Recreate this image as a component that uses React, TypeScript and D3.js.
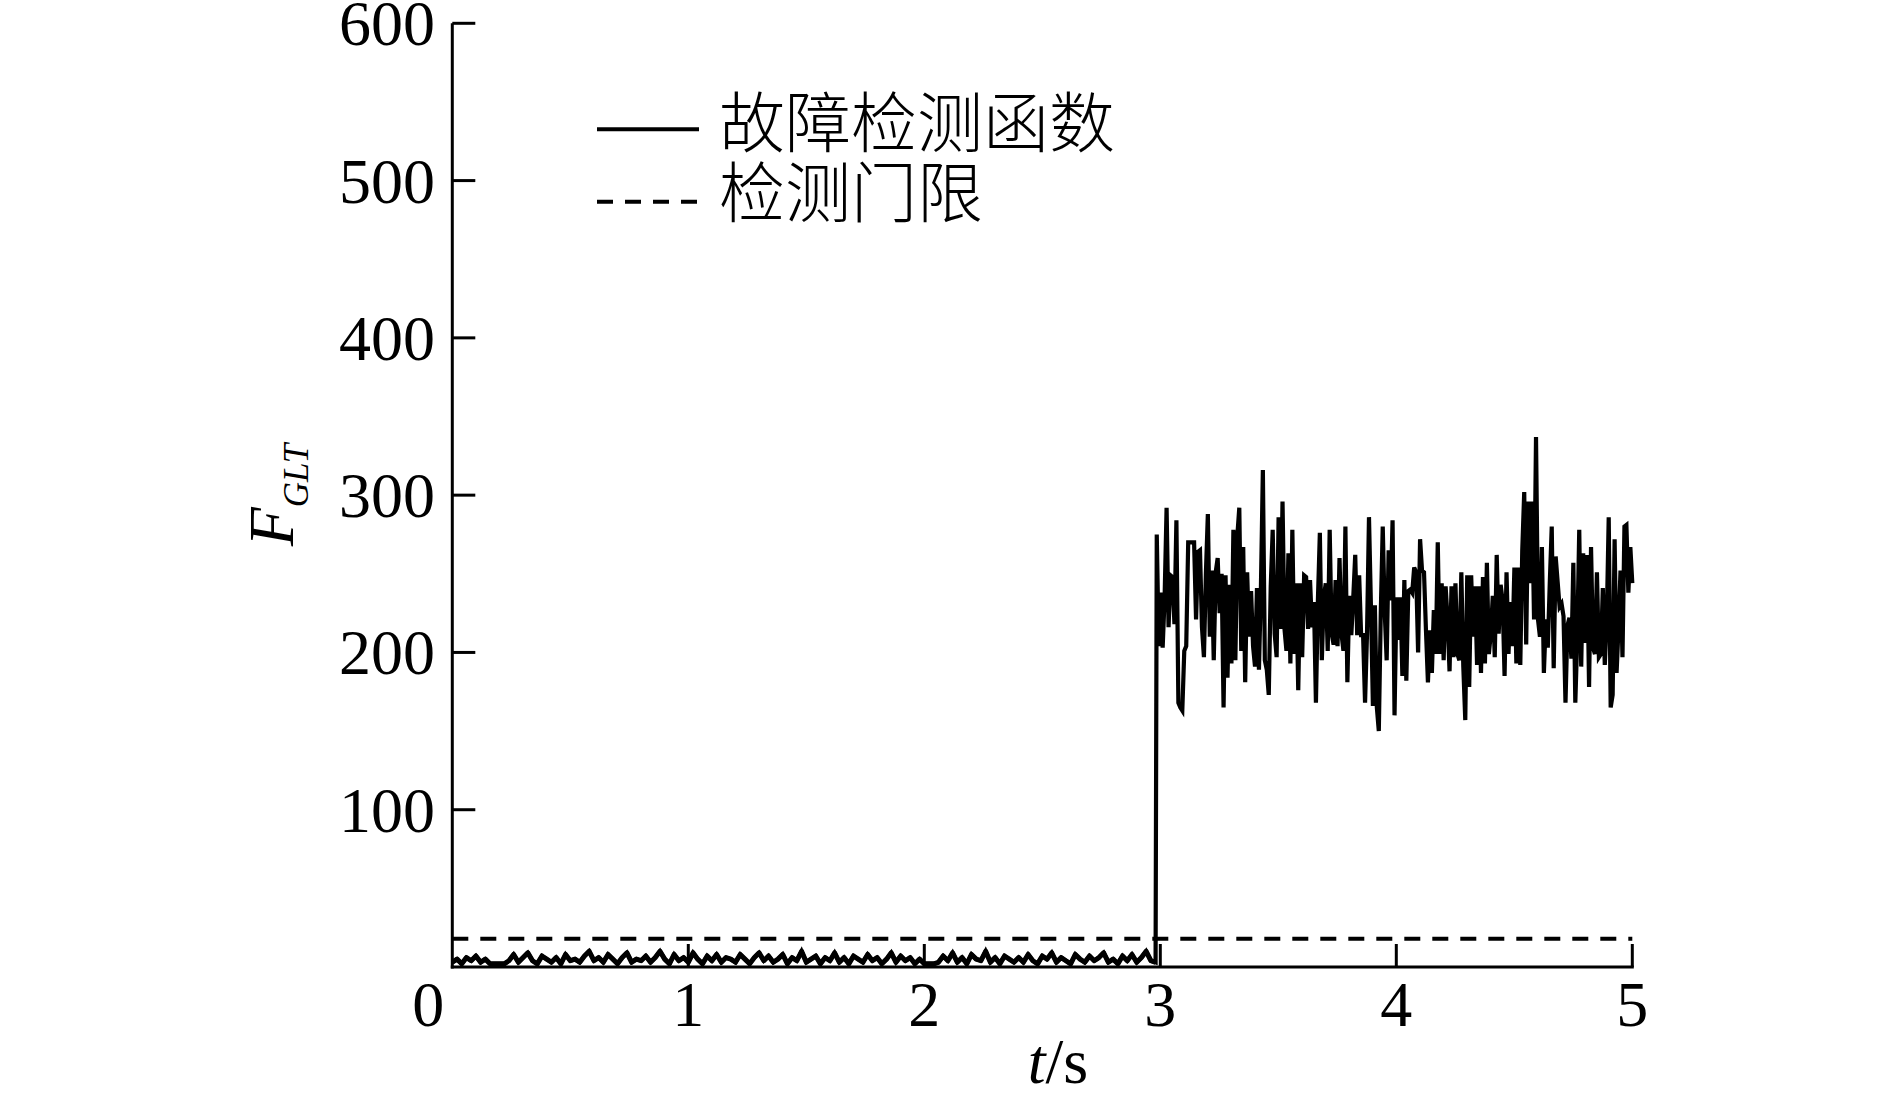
import React from 'react';
import * as d3 from 'd3';

const xTicks = [0, 1, 2, 3, 4, 5];
const yTicks = [100, 200, 300, 400, 500, 600];
const threshold = 18;
const faultTime = 2.985;
const preStep = 0.02;
const legendLabels = ['故障检测函数', '检测门限'];

const preFault = [
  3, 5, 2, 6, 4, 7, 3, 5, 2, 2, 2, 2, 4, 8, 3, 6, 9, 4, 2, 7,
  5, 3, 6, 2, 8, 4, 5, 3, 7, 10, 4, 6, 3, 8, 5, 2, 6, 9, 3, 5,
  4, 7, 3, 6, 10, 5, 2, 8, 4, 6, 3, 9, 5, 2, 7, 4, 8, 3, 6, 5,
  3, 8, 5, 2, 6, 9, 4, 7, 3, 5, 8, 2, 6, 4, 10, 3, 5, 7, 2, 6,
  4, 9, 3, 6, 2, 7, 5, 3, 8, 4, 6, 2, 5, 9, 3, 7, 4, 6, 2, 5,
  2, 2, 2, 3, 7, 4, 9, 3, 6, 2, 8, 5, 4, 10, 3, 6, 2, 7, 5, 3,
  6, 3, 8, 4, 2, 7, 5, 9, 3, 6, 4, 2, 8, 5, 3, 7, 4, 6, 9, 3,
  5, 2, 7, 4, 8, 3, 6, 10, 4, 3,
];

const postFault = [
  275, 204, 238, 203, 235, 292, 216, 249, 248, 218, 284, 168, 165, 163, 201, 204, 270, 270, 270, 270,
  221, 264, 265, 216, 197, 250, 288, 210, 252, 195, 251, 260, 225, 250, 165, 249, 184, 243, 193, 278,
  195, 274, 292, 201, 267, 181, 251, 210, 239, 204, 191, 241, 189, 241, 316, 195, 189, 173, 242, 278,
  212, 197, 286, 215, 296, 215, 201, 263, 193, 278, 199, 244, 176, 244, 197, 249, 248, 215, 246, 216,
  232, 168, 233, 276, 195, 235, 244, 201, 278, 212, 205, 246, 204, 260, 212, 201, 280, 181, 236, 211,
  235, 262, 211, 249, 211, 211, 168, 212, 286, 229, 166, 230, 165, 150, 225, 280, 226, 195, 265, 233,
  284, 160, 235, 208, 235, 185, 246, 182, 239, 240, 238, 254, 251, 200, 272, 252, 251, 214, 181, 214,
  187, 227, 199, 270, 199, 244, 195, 242, 221, 188, 242, 197, 244, 199, 195, 251, 191, 157, 249, 178,
  249, 210, 242, 192, 242, 187, 248, 193, 257, 199, 212, 236, 197, 262, 212, 243, 233, 185, 251, 199,
  232, 204, 254, 193, 254, 192, 265, 302, 205, 296, 244, 296, 221, 337, 221, 210, 267, 187, 221, 203,
  244, 280, 190, 261, 245, 229, 231, 223, 168, 217, 222, 196, 257, 168, 210, 278, 191, 263, 206, 262,
  178, 267, 203, 199, 251, 197, 199, 241, 192, 221, 286, 165, 173, 272, 187, 216, 252, 197, 280, 281,
  238, 267, 244,
];

const SERIF = '"Liberation Serif", "Times New Roman", serif';
const CJK = '"Noto Sans CJK SC", "Noto Sans CJK JP", sans-serif';

export default function App() {
  const W = 1889;
  const H = 1093;
  const x = d3.scaleLinear().domain([0, 5]).range([452.3, 1632.3]);
  const y = d3.scaleLinear().domain([0, 600]).range([967, 23.3]);
  const postStep = (5 - faultTime) / (postFault.length - 1);
  const prePts: [number, number][] = preFault.map((v, i) => [i * preStep, v] as [number, number]);
  const postPts: [number, number][] = postFault.map(
    (v, i) => [faultTime + i * postStep, v] as [number, number]
  );
  const pts = [...prePts, ...postPts];
  const line = d3
    .line<[number, number]>()
    .x((d) => x(d[0]))
    .y((d) => y(d[1]));
  const tickLen = 23;
  const x0 = x(0);
  const y0 = y(0);

  return (
    <svg
      width={W}
      height={H}
      style={{ position: 'absolute', left: 0, top: 0, background: '#fff' }}
    >
      <rect x={0} y={0} width={W} height={H} fill="#fff" />
      {/* data */}
      <path d={line(pts) || ''} fill="none" stroke="#000" strokeWidth={4.2} strokeLinejoin="miter" />
      <path d={line(prePts) || ''} fill="none" stroke="#000" strokeWidth={5} strokeLinejoin="round" />
      <line
        x1={x(0)}
        x2={x(5)}
        y1={y(threshold)}
        y2={y(threshold)}
        stroke="#000"
        strokeWidth={4}
        strokeDasharray="16 12"
      />
      {/* axes */}
      <line x1={x0} x2={x0} y1={y(600)} y2={y0 + 1.5} stroke="#000" strokeWidth={3} />
      <line x1={x0 - 1.5} x2={x(5) + 1.5} y1={y0} y2={y0} stroke="#000" strokeWidth={3} />
      {yTicks.map((t) => (
        <g key={'y' + t}>
          <line x1={x0} x2={x0 + tickLen} y1={y(t)} y2={y(t)} stroke="#000" strokeWidth={3} />
          <text
            x={435}
            y={y(t) + 22}
            textAnchor="end"
            fontFamily={SERIF}
            fontSize={64}
            fill="#000"
          >
            {t}
          </text>
        </g>
      ))}
      {xTicks.map((t) => (
        <g key={'x' + t}>
          {t > 0 && (
            <line x1={x(t)} x2={x(t)} y1={y0} y2={y0 - tickLen} stroke="#000" strokeWidth={3} />
          )}
          <text
            x={t === 0 ? x(t) - 24 : x(t)}
            y={1026}
            textAnchor="middle"
            fontFamily={SERIF}
            fontSize={64}
            fill="#000"
          >
            {t}
          </text>
        </g>
      ))}
      {/* axis titles */}
      <text x={1058} y={1083} textAnchor="middle" fontFamily={SERIF} fontSize={64} fill="#000">
        <tspan fontStyle="italic">t</tspan>
        <tspan>/s</tspan>
      </text>
      <text
        transform="translate(293,495) rotate(-90)"
        textAnchor="middle"
        fontFamily={SERIF}
        fontSize={64}
        fill="#000"
      >
        <tspan fontStyle="italic">F</tspan>
        <tspan fontStyle="italic" fontSize={35} dy={15}>
          GLT
        </tspan>
      </text>
      {/* legend */}
      <line x1={597} x2={699} y1={129.3} y2={129.3} stroke="#000" strokeWidth={4} />
      <line
        x1={597}
        x2={699}
        y1={201.7}
        y2={201.7}
        stroke="#000"
        strokeWidth={4}
        strokeDasharray="16 12"
      />
      <text x={719} y={147} fontFamily={CJK} fontSize={66} fontWeight={300} fill="#000">
        {legendLabels[0]}
      </text>
      <text x={719} y={217} fontFamily={CJK} fontSize={66} fontWeight={300} fill="#000">
        {legendLabels[1]}
      </text>
    </svg>
  );
}
